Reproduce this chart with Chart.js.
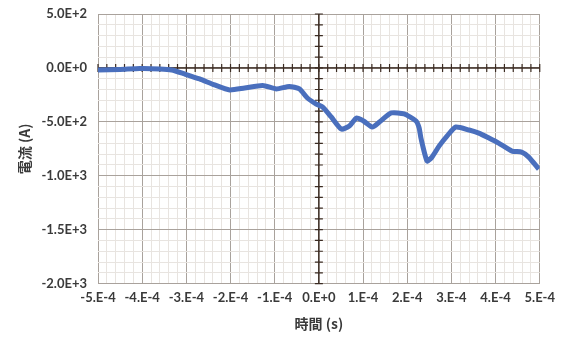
<!DOCTYPE html>
<html>
<head>
<meta charset="utf-8">
<script src="https://cdn.jsdelivr.net/npm/chart.js@4"></script>
<style>
  body { margin: 0; background: #fff; }
</style>
</head>
<body>
<canvas id="myChart" width="561" height="340"></canvas>
<script>
// time (s) and current (A)
const timeS = [-5.0e-4, -4.5e-4, -4.05e-4, -3.6e-4, -3.33e-4, -3.04e-4, -2.7e-4, -2.36e-4, -2.02e-4,
  -1.68e-4, -1.27e-4, -0.96e-4, -0.67e-4, -0.44e-4, -0.26e-4, -0.06e-4, 0.08e-4, 0.28e-4, 0.51e-4,
  0.69e-4, 0.85e-4, 1.01e-4, 1.21e-4, 1.37e-4, 1.64e-4, 1.93e-4, 2.2e-4, 2.27e-4, 2.31e-4, 2.45e-4,
  2.56e-4, 2.72e-4, 2.9e-4, 3.1e-4, 3.4e-4, 3.62e-4, 3.85e-4, 4.07e-4, 4.37e-4, 4.59e-4, 4.75e-4, 4.98e-4];
const currentA = [-19, -14, -5, -9, -19, -56, -102, -158, -204,
  -186, -163, -195, -172, -195, -279, -335, -362, -455, -567,
  -539, -465, -492, -548, -502, -418, -427, -492, -557, -650, -864,
  -827, -725, -632, -548, -576, -604, -650, -697, -771, -780, -827, -938];

const xLabels = ["-5.E-4", "-4.E-4", "-3.E-4", "-2.E-4", "-1.E-4", "0.E+0", "1.E-4", "2.E-4", "3.E-4", "4.E-4", "5.E-4"];
const yLabels = ["-2.0E+3", "-1.5E+3", "-1.0E+3", "-5.0E+2", "0.0E+0", "5.0E+2"];

const points = timeS.map((t, i) => ({ x: t, y: currentA[i] }));

const majorColor = "#a9a29c";
const minorColor = "#e8e4e0";
const axisColor = "#3b2b22";
const textColor = "#3a3a3a";

// draws the axes crossing at the origin, with small cross ticks
const crossAxes = {
  id: "crossAxes",
  beforeDatasetsDraw(chart) {
    const { ctx, chartArea, scales } = chart;
    const x0 = scales.x.getPixelForValue(0);
    const y0 = scales.y.getPixelForValue(0);
    ctx.save();
    ctx.strokeStyle = axisColor;
    ctx.lineWidth = 1.5;
    ctx.beginPath();
    ctx.moveTo(chartArea.left, y0);
    ctx.lineTo(chartArea.right, y0);
    ctx.moveTo(x0, chartArea.top);
    ctx.lineTo(x0, chartArea.bottom);
    ctx.stroke();
    ctx.lineWidth = 1.2;
    ctx.beginPath();
    scales.x.ticks.forEach((t) => {
      const px = scales.x.getPixelForValue(t.value);
      ctx.moveTo(px, y0 - 4);
      ctx.lineTo(px, y0 + 4);
    });
    scales.y.ticks.forEach((t) => {
      const py = scales.y.getPixelForValue(t.value);
      ctx.moveTo(x0 - 4, py);
      ctx.lineTo(x0 + 4, py);
    });
    ctx.stroke();
    ctx.restore();
  },
};

const tickFont = { family: "Lato", size: 13, weight: "bold" };
const titleFont = { family: "Noto Sans CJK JP", size: 14, weight: "bold" };

const ctx = document.getElementById("myChart").getContext("2d");

new Chart(ctx, {
  type: "scatter",
  data: {
    datasets: [
      {
        data: points,
        showLine: true,
        borderColor: "#4a6fbd",
        backgroundColor: "#4a6fbd",
        borderWidth: 5,
        pointRadius: 0,
        tension: 0.2,
      },
    ],
  },
  plugins: [crossAxes],
  options: {
    responsive: false,
    animation: false,
    layout: { padding: { top: 14, right: 20, left: 12, bottom: 4 } },
    plugins: { legend: { display: false }, tooltip: { enabled: false } },
    scales: {
      x: {
        type: "linear",
        min: -5e-4,
        max: 5e-4,
        ticks: {
          stepSize: 2e-5,
          autoSkip: false,
          maxRotation: 0,
          color: textColor,
          font: tickFont,
          padding: 6,
          callback: (v, i) => (i % 5 === 0 ? xLabels[i / 5] : ""),
        },
        grid: {
          color: (c) => (c.index % 5 === 0 ? majorColor : minorColor),
          lineWidth: 1,
          drawTicks: false,
        },
        border: { display: false },
        title: {
          display: true,
          text: "時間 (s)",
          color: textColor,
          font: titleFont,
          padding: { top: 4 },
        },
      },
      y: {
        type: "linear",
        min: -2000,
        max: 500,
        afterFit: (s) => { s.width = 86; s.paddingTop = 0; s.paddingBottom = 0; },
        ticks: {
          stepSize: 100,
          autoSkip: false,
          color: textColor,
          font: tickFont,
          padding: 11,
          callback: (v, i) => (i % 5 === 0 ? yLabels[i / 5] : ""),
        },
        grid: {
          color: (c) => (c.index % 5 === 0 ? majorColor : minorColor),
          lineWidth: 1,
          drawTicks: false,
        },
        border: { display: false },
        title: {
          display: true,
          text: "電流 (A)",
          color: textColor,
          font: titleFont,
          padding: { bottom: 0 },
        },
      },
    },
  },
});
</script>
</body>
</html>
